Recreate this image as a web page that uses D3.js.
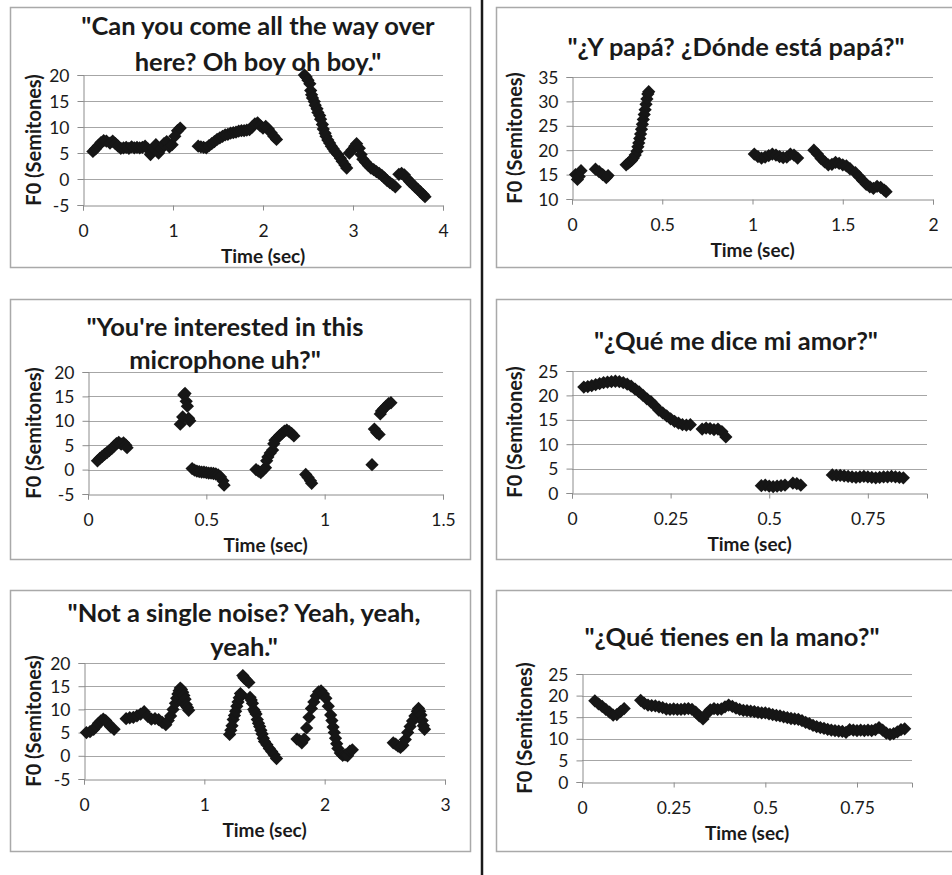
<!DOCTYPE html>
<html>
<head>
<meta charset="utf-8">
<script src="https://cdn.jsdelivr.net/npm/d3@7"></script>
<style>
  body { margin: 0; background: #fff; }
  svg { display: block; font-family: Lato, "Open Sans", sans-serif; }
</style>
</head>
<body>
<svg id="chart" width="952" height="875"></svg>
<script>
// --- data (time in sec, F0 in semitones) ---

const p1Time = [0.11,0.14,0.17,0.2,0.23,0.26,0.3,0.33,0.36,0.39,0.42,0.45,0.48,0.51,0.54,0.57,0.6,0.63,0.66,0.69,0.72,0.75,0.78,0.81,0.84,0.87,0.9,0.93,0.96,0.99,1.02,1.05,1.08,
  1.28,1.31,1.34,1.37,1.4,1.43,1.46,1.49,1.52,1.55,1.58,1.61,1.64,1.67,1.7,1.73,1.76,1.79,1.82,1.85,1.88,1.91,1.94,1.97,2.0,2.03,2.06,2.09,2.12,2.15,
  2.46,2.48,2.5,2.52,2.53,2.54,2.55,2.57,2.58,2.6,2.61,2.63,2.64,2.66,2.67,2.69,2.7,2.72,2.74,2.76,2.78,2.8,2.83,2.86,2.88,2.91,2.93,
  2.96,2.99,3.02,3.04,3.07,3.09,3.11,3.14,3.17,3.2,3.23,3.26,3.29,3.32,3.35,3.38,3.41,3.44,3.47,
  3.51,3.54,3.57,3.6,3.63,3.66,3.69,3.72,3.75,3.78,3.8]
const p1F0 = [5.3,5.8,6.4,7.0,7.4,7.3,6.9,7.3,6.8,6.3,5.9,6.0,6.1,5.9,6.2,6.0,6.1,6.0,6.1,6.3,5.8,4.7,5.9,6.6,5.0,5.8,6.8,7.2,6.2,6.6,8.2,9.3,9.8,
  6.3,6.2,6.1,6.0,6.4,6.8,7.2,7.6,7.9,8.2,8.5,8.6,8.8,8.9,9.0,9.2,9.3,9.3,9.4,9.5,10.0,10.6,10.8,10.2,9.8,10.1,9.6,8.9,8.2,7.6,
  20.0,19.6,19.0,18.3,17.0,16.2,15.6,14.9,14.2,13.5,12.8,12.2,11.5,10.5,9.6,8.8,8.2,7.5,6.9,6.3,5.8,5.3,4.7,4.0,3.4,2.7,2.1,
  5.0,5.6,6.3,6.8,5.9,4.7,3.8,3.2,2.6,2.1,1.8,1.4,1.1,0.7,0.2,-0.3,-0.7,-1.1,-1.5,
  0.9,1.1,0.8,0.1,-0.5,-1.0,-1.5,-2.0,-2.5,-3.0,-3.4]

const p2Time = [0.02,0.03,0.04,0.05,
  0.13,0.15,0.17,0.19,0.2,
  0.3,0.31,0.32,0.33,0.34,0.35,0.36,0.365,0.37,0.375,0.38,0.385,0.39,0.395,0.4,0.405,0.41,0.415,0.42,0.425,
  1.01,1.03,1.05,1.07,1.09,1.11,1.13,1.15,1.17,1.19,1.21,1.23,1.25,
  1.34,1.36,1.38,1.4,1.42,1.44,1.46,1.48,1.5,1.52,1.54,1.57,1.59,1.61,1.63,1.65,1.67,1.69,1.71,1.73,1.74]
const p2F0 = [15.0,14.0,14.6,15.8,
  16.1,15.6,15.0,14.4,14.8,
  17.0,17.3,17.6,17.9,18.4,19.0,19.8,20.7,21.5,22.4,23.3,24.3,25.3,26.3,27.3,28.3,29.4,30.5,31.5,32.0,
  19.2,18.7,18.4,18.6,18.9,19.2,19.0,18.7,18.5,18.6,19.2,19.0,18.4,
  20.0,19.2,18.3,17.6,17.0,17.1,17.5,17.3,17.0,16.8,16.2,15.4,14.6,13.8,13.0,12.5,12.2,12.6,12.4,11.8,11.5]

const p3Time = [0.04,0.05,0.06,0.07,0.08,0.09,0.1,0.11,0.12,0.13,0.14,0.15,0.16,0.165,
  0.39,0.4,0.405,0.41,0.415,0.42,0.425,0.43,
  0.44,0.45,0.46,0.47,0.48,0.49,0.5,0.51,0.52,0.53,0.54,0.55,0.56,0.57,0.575,
  0.71,0.72,0.73,0.74,0.75,0.755,0.76,0.77,0.78,0.785,0.79,0.8,0.81,0.82,0.83,0.84,0.85,0.86,0.87,
  0.92,0.93,0.94,0.945,
  1.2,1.21,1.22,1.23,1.235,1.24,1.25,1.26,1.27,1.28]
const p3F0 = [1.8,2.3,2.7,3.1,3.5,3.9,4.3,4.8,5.3,5.6,5.2,5.5,5.0,4.5,
  9.3,10.8,15.3,15.6,14.0,13.0,10.5,10.0,
  0.2,-0.1,-0.3,-0.4,-0.5,-0.5,-0.6,-0.7,-0.7,-0.8,-0.9,-1.1,-1.5,-2.3,-3.2,
  0.0,-0.3,-0.6,-0.1,0.4,1.8,2.6,3.4,4.0,5.3,6.0,6.5,7.0,7.4,7.9,8.1,7.8,7.4,6.9,
  -1.0,-1.6,-2.3,-2.8,
  1.0,8.3,7.6,7.2,11.4,12.0,12.5,13.0,13.5,13.7]

const p4Time = [0.03,0.04,0.05,0.06,0.07,0.08,0.09,0.1,0.11,0.12,0.13,0.14,0.15,0.16,0.17,0.18,0.19,0.2,0.21,0.22,0.23,0.24,0.25,0.26,0.27,0.28,0.29,0.3,
  0.33,0.34,0.35,0.36,0.37,0.38,0.39,
  0.48,0.49,0.5,0.51,0.52,0.53,0.54,0.56,0.57,0.58,
  0.66,0.67,0.68,0.69,0.7,0.71,0.72,0.73,0.74,0.75,0.76,0.77,0.78,0.79,0.8,0.81,0.82,0.83,0.84]
const p4F0 = [21.7,21.8,22.0,22.2,22.4,22.6,22.7,22.8,22.9,22.8,22.6,22.3,21.9,21.3,20.7,20.0,19.3,18.7,17.9,17.0,16.4,15.8,15.2,14.7,14.3,14.0,13.9,14.0,
  13.1,13.3,13.2,13.0,13.1,12.6,11.5,
  1.5,1.6,1.4,1.3,1.4,1.5,1.6,2.0,1.9,1.6,
  3.7,3.6,3.6,3.5,3.4,3.3,3.2,3.3,3.4,3.3,3.2,3.1,3.2,3.3,3.3,3.4,3.3,3.2,3.1]

const p5Time = [0.02,0.05,0.08,0.1,0.12,0.14,0.16,0.18,0.2,0.22,0.25,
  0.35,0.38,0.41,0.44,0.47,0.5,0.53,0.56,0.59,0.62,0.65,0.68,0.7,0.72,0.74,0.76,0.77,0.78,0.79,0.8,0.81,0.82,0.83,0.82,0.84,0.85,0.86,0.87,
  1.21,1.22,1.23,1.24,1.25,1.26,1.27,1.28,1.29,1.3,1.31,1.32,1.33,1.35,1.37,1.38,1.39,1.4,1.41,1.42,1.43,1.44,1.45,1.46,1.47,1.48,1.49,1.5,1.52,1.54,1.56,1.58,1.6,
  1.77,1.79,1.81,1.83,1.85,1.87,1.89,1.91,1.93,1.95,1.97,1.99,2.01,2.03,2.05,2.06,2.07,2.08,2.09,2.1,2.11,2.13,2.15,2.17,2.19,2.21,2.23,
  2.57,2.59,2.61,2.63,2.65,2.67,2.69,2.71,2.73,2.75,2.77,2.78,2.79,2.8,2.81,2.82,2.83]
const p5F0 = [5.0,5.2,5.7,6.3,7.0,7.5,7.9,7.6,7.0,6.3,5.7,
  8.0,8.2,8.3,8.6,9.0,9.5,8.5,7.9,8.0,7.8,7.2,6.7,7.6,8.6,10.0,11.3,12.4,13.3,14.0,14.6,14.3,13.7,13.0,11.5,12.2,11.0,10.4,9.8,
  4.6,5.5,6.5,7.8,8.7,9.6,10.7,11.6,12.5,13.4,13.0,17.3,16.8,16.3,15.8,12.6,12.0,11.3,10.0,9.5,9.0,7.8,7.0,6.3,5.5,4.7,3.8,3.1,2.4,1.6,0.9,0.2,-0.6,
  3.6,3.3,2.8,3.6,6.0,8.3,10.2,11.6,12.9,13.8,14.0,13.3,12.4,10.7,8.8,7.6,6.2,5.0,3.8,2.6,1.6,0.6,0.1,0.2,0.0,1.0,1.3,
  2.8,2.5,2.1,1.8,2.3,3.5,5.0,6.3,7.5,8.6,9.6,10.2,9.6,8.8,7.6,6.5,5.7]

const p6Time = [0.035,0.045,0.055,0.065,0.075,0.085,0.095,0.105,0.115,
  0.16,0.17,0.18,0.19,0.2,0.21,0.22,0.23,0.24,0.25,0.26,0.27,0.28,0.29,0.3,0.31,0.32,0.33,0.34,0.35,0.36,0.37,0.38,0.39,0.4,
  0.41,0.42,0.43,0.44,0.45,0.46,0.47,0.48,0.49,0.5,0.51,0.52,0.53,0.54,0.55,0.56,0.57,0.58,0.59,0.6,
  0.61,0.62,0.63,0.64,0.65,0.66,0.67,0.68,0.69,0.7,0.71,0.72,0.73,0.74,0.75,0.76,0.77,0.78,0.79,0.8,
  0.81,0.82,0.83,0.84,0.85,0.86,0.87,0.88]
const p6F0 = [18.8,18.1,17.5,16.8,16.2,15.5,15.6,16.3,17.0,
  18.9,18.2,17.8,17.7,17.6,17.4,17.2,16.9,16.8,16.9,16.8,16.8,16.9,17.0,16.8,16.2,15.3,14.6,15.8,16.7,17.0,16.8,16.9,17.4,17.8,
  17.5,17.1,16.8,16.6,16.5,16.4,16.3,16.1,16.0,16.0,15.8,15.6,15.4,15.3,15.1,14.9,14.7,14.6,14.5,14.2,
  13.8,13.5,13.1,12.8,12.6,12.4,12.2,12.0,11.9,11.8,11.7,11.5,12.1,12.0,11.9,12.0,11.9,12.0,11.9,12.1,
  12.6,12.0,11.3,11.0,11.2,11.6,12.1,12.3]

const titles = [
  ['"Can you come all the way over', 'here? Oh boy oh boy."'],
  ['"¿Y papá? ¿Dónde está papá?"'],
  ['"You\'re interested in this', 'microphone uh?"'],
  ['"¿Qué me dice mi amor?"'],
  ['"Not a single noise? Yeah, yeah,', 'yeah."'],
  ['"¿Qué tienes en la mano?"']
]

const xTickSets = [[0,1,2,3,4], [0,0.5,1,1.5,2], [0,0.5,1,1.5], [0,0.25,0.5,0.75], [0,1,2,3], [0,0.25,0.5,0.75]]
const yTickSets = [[-5,0,5,10,15,20], [10,15,20,25,30,35], [-5,0,5,10,15,20], [0,5,10,15,20,25], [-5,0,5,10,15,20], [0,5,10,15,20,25]]
const xMax = [4, 2, 1.5, 0.9, 3, 0.9]

const xLabel = "Time (sec)"
const yLabel = "F0 (Semitones)"

// layout of the six boxes (frame, plot area, title centre, y title x)
const panels = [
  {t: p1Time, f: p1F0, box: [10, 7, 460, 260], plot: [83, 75, 443, 205], title: [258, 25, 61], yt: 33},
  {t: p2Time, f: p2F0, box: [496, 7, 470, 260], plot: [572, 77, 933, 199], title: [736, 46], yt: 514},
  {t: p3Time, f: p3F0, box: [10, 299, 460, 260], plot: [88, 372, 443, 494], title: [225, 326, 359], yt: 33},
  {t: p4Time, f: p4F0, box: [496, 299, 470, 260], plot: [572, 371, 927, 493], title: [736, 340], yt: 514},
  {t: p5Time, f: p5F0, box: [10, 590, 460, 261], plot: [84, 663, 445, 779], title: [244, 612, 646], yt: 33},
  {t: p6Time, f: p6F0, box: [496, 590, 470, 261], plot: [582, 674, 912, 782], title: [732, 636], yt: 524}
]

const svg = d3.select("#chart")
const gridColor = "#a6a6a6"
const axisColor = "#8c8c8c"
const markColor = "#161616"
const fmt = d => String(d)

panels.forEach(function(p, i) {
    const g = svg.append("g")
    const b = p.box
    g.append("rect")
        .attr("x", b[0] + 0.5).attr("y", b[1] + 0.5)
        .attr("width", b[2]).attr("height", b[3])
        .attr("fill", "#fff").attr("stroke", "#a9a9a9").attr("stroke-width", 1.5)

    const [px0, py0, px1, py1] = p.plot
    const x = d3.scaleLinear().domain([0, xMax[i]]).range([px0, px1])
    const yd = yTickSets[i]
    const y = d3.scaleLinear().domain([yd[0], yd[yd.length - 1]]).range([py1, py0])

    // gridlines
    g.append("g").selectAll("line").data(yd.slice(1)).join("line")
        .attr("x1", px0).attr("x2", px1)
        .attr("y1", d => Math.round(y(d)) + 0.5).attr("y2", d => Math.round(y(d)) + 0.5)
        .attr("stroke", gridColor).attr("stroke-width", 1)

    // y axis
    const yAxis = g.append("g")
        .attr("transform", "translate(" + (Math.round(px0) + 0.5) + ",0)")
        .call(d3.axisLeft(y).tickValues(yd).tickFormat(fmt).tickSize(6).tickPadding(8))
    // x axis
    const xAxis = g.append("g")
        .attr("transform", "translate(0," + (Math.round(py1) + 0.5) + ")")
        .call(d3.axisBottom(x).tickValues(xTickSets[i]).tickFormat(fmt).tickSize(5).tickPadding(14))
    ;[xAxis, yAxis].forEach(function(a) {
        a.select(".domain").attr("stroke", axisColor)
        a.selectAll(".tick line").attr("stroke", axisColor)
        a.selectAll(".tick text").attr("fill", "#1a1a1a").attr("font-size", 17.5)
            .attr("font-family", "Lato, sans-serif")
    })
    yAxis.selectAll(".tick text").attr("dy", "0.35em")

    // markers
    const pts = p.t.map((t, k) => [t, p.f[k]])
    g.append("g").selectAll("path").data(pts).join("path")
        .attr("d", d3.symbol(d3.symbolSquare, 88))
        .attr("transform", d => "translate(" + x(d[0]) + "," + y(d[1]) + ") rotate(45)")
        .attr("fill", markColor)

    // title
    titles[i].forEach(function(line, k) {
        g.append("text")
            .attr("x", p.title[0]).attr("y", p.title[k + 1])
            .attr("text-anchor", "middle").attr("dominant-baseline", "central")
            .attr("font-size", 25.5).attr("font-weight", "bold").attr("fill", "#1a1a1a")
            .text(line)
    })

    // axis titles
    g.append("text")
        .attr("x", (px0 + px1) / 2).attr("y", py1 + 50)
        .attr("text-anchor", "middle").attr("dominant-baseline", "central")
        .attr("font-size", 19).attr("font-weight", "bold").attr("fill", "#1a1a1a")
        .text(xLabel)
    g.append("text")
        .attr("transform", "translate(" + p.yt + "," + (py0 + py1) / 2 + ") rotate(-90)")
        .attr("text-anchor", "middle").attr("dominant-baseline", "central")
        .attr("font-size", 20).attr("font-weight", "bold").attr("fill", "#1a1a1a")
        .text(yLabel)
})

// black divider between the two columns
svg.append("line")
    .attr("x1", 482).attr("x2", 482).attr("y1", 0).attr("y2", 875)
    .attr("stroke", "#1a1a1a").attr("stroke-width", 2.5)
</script>
</body>
</html>
